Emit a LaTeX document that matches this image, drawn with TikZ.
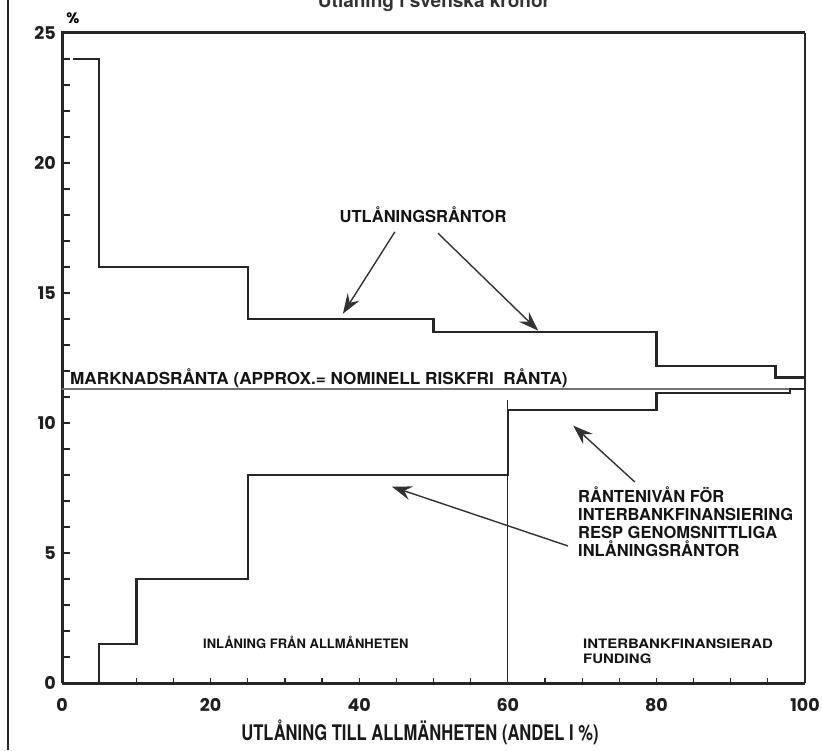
\documentclass[tikz,border=0pt]{standalone}
\usepackage{fontspec}
\setmainfont{TeX Gyre Heros}
\newfontfamily\numfont{Poppins}
\usetikzlibrary{arrows.meta}
\begin{document}
\begin{tikzpicture}[x=1pt,y=1pt,
  ink/.style={draw=black!85},
  stepline/.style={ink, line width=2.5pt, line join=miter},
  axisline/.style={ink, line width=3pt},
  ptr/.style={draw=black!80, line width=1.4pt, -{Stealth[length=20pt,width=14pt,inset=7pt]}},
  lab/.style={font=\bfseries\fontsize{16.5}{18}\selectfont, text=black!92, inner sep=0pt},
  smalllab/.style={font=\bfseries\fontsize{13}{13}\selectfont, text=black!92, inner sep=0pt},
  num/.style={font=\numfont\bfseries\fontsize{17.5}{17.5}\selectfont, text=black!88, inner sep=0pt},
]
\useasboundingbox[fill=white] (0,0) rectangle (822,750);
\draw[ink, line width=1.5pt] (8,0) -- (8,750);

\begin{scope}[shift={(62pt,67pt)}, x=7.43pt, y=26pt]
  % axes and frame
  \draw[axisline] (0,0) -- (100,0);
  \draw[axisline] (0,0) -- (0,25) -- (100,25);
  \draw[ink, line width=2.2pt] (100,25) -- (100,0);
  \foreach \i in {1,...,24} \draw[ink, line width=1.3pt] (0,\i) -- ++(8pt,0);
  \foreach \i in {5,10,...,95} \draw[ink, line width=1.2pt] (\i,0) -- ++(0,5pt);
  % market rate
  \draw[black!55, line width=1.6pt] (0,11.3) -- (100,11.3);
  % divider at 60
  \draw[ink, line width=0.7pt] (60,0) -- (60,10.9);
  % lending rates
  \draw[stepline] (1.5,24) -- (5,24) -- (5,16) -- (25,16) -- (25,14) -- (50,14) -- (50,13.5)
        -- (80,13.5) -- (80,12.2) -- (96,12.2) -- (96,11.75) -- (100,11.75);
  % deposit / interbank rates
  \draw[stepline] (5,0) -- (5,1.5) -- (10,1.5) -- (10,4) -- (25,4) -- (25,8) -- (60,8)
        -- (60,10.5) -- (80,10.5) -- (80,11.15) -- (98,11.15) -- (98,11.3) -- (100,11.3);
  % arrow ends
  \coordinate (t1) at (37.8,14.2);
  \coordinate (t2) at (64.1,13.55);
  \coordinate (t3) at (68.8,9.9);
  \coordinate (t4) at (44.4,7.55);
  \coordinate (s1) at (44.8,17.35);
  \coordinate (s2) at (50.6,17.3);
  \coordinate (s3) at (77.1,7.73);
  \coordinate (s4) at (68.1,5.27);
\end{scope}

% title and axis labels
\node[font=\bfseries\fontsize{19}{19}\selectfont, text=black!80, anchor=base, inner sep=0pt] (title) at (434,742) {Utlåning i svenska kronor};
\node[font=\numfont\bfseries\fontsize{15}{15}\selectfont, inner sep=0pt] (pct) at (73,732) {\%};
\foreach \v in {0,5,10,15,20,25}
  \node[num, anchor=east] (y\v) at (56,67+26*\v) {\v};
\foreach \v in {0,20,40,60,80,100}
  \node[num] (x\v) at (62+7.43*\v,45) {\v};
\node[font=\bfseries\fontsize{21.5}{21.5}\selectfont, text=black!90, anchor=base, inner sep=0pt] (xtitle) at (420,10) {\scalebox{0.77}[1]{UTLÅNING TILL ALLMÄNHETEN (ANDEL I \%)}};

% labels
\node[lab, anchor=base] (utl) at (423,527) {UTLÅNINGSRÅNTOR};
\node[lab, anchor=base west] (mark) at (70,365) {\scalebox{1.04}[1]{MARKNADSRÅNTA (APPROX.= NOMINELL RISKFRI \ RÅNTA)}};
\node[lab, anchor=base west] (r1) at (578,247) {RÅNTENIVÅN FÖR};
\node[lab, anchor=base west] (r2) at (578,229) {INTERBANKFINANSIERING};
\node[lab, anchor=base west] (r3) at (578,211) {RESP GENOMSNITTLIGA};
\node[lab, anchor=base west] (r4) at (578,193) {INLÅNINGSRÅNTOR};
\node[smalllab, anchor=base west] (inl) at (203,101.5) {INLÅNING FRÅN ALLMÅNHETEN};
\node[smalllab, anchor=base west] (ib1) at (583,101.5) {\scalebox{1.15}[1]{INTERBANKFINANSIERAD}};
\node[smalllab, anchor=base west] (ib2) at (583,86) {\scalebox{1.15}[1]{FUNDING}};

% pointers
\draw[ptr] (s1) -- (t1);
\draw[ptr] (s2) -- (t2);
\draw[ptr] (s3) -- (t3);
\draw[ptr] (s4) -- (t4);
\end{tikzpicture}
\end{document}
